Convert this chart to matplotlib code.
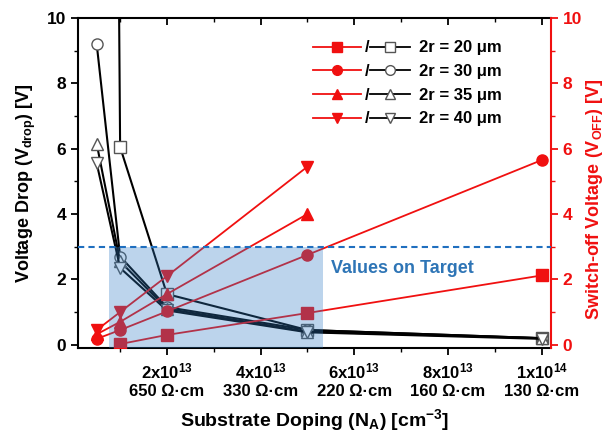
import numpy as np
import matplotlib
matplotlib.use("Agg")
import matplotlib.pyplot as plt
from matplotlib.lines import Line2D

plt.rcParams['font.family'] = ['Liberation Sans', 'DejaVu Sans']
plt.rcParams['font.weight'] = 'bold'
plt.rcParams['mathtext.default'] = 'regular'

# doping in 1e13 cm^-3
doping = np.array([0.5, 1.0, 2.0, 5.0, 10.0])

# voltage drop (black, open markers), left axis
vdrop_20 = [100.0, 6.05, 1.55, 0.45, 0.20]
vdrop_30 = [9.20, 2.70, 1.15, 0.45, 0.20]
vdrop_35 = [6.15, 2.55, 1.10, 0.40, 0.20]
vdrop_40 = [5.55, 2.35, 1.05, 0.38, 0.18]

# switch-off voltage (red, filled markers), right axis
voff_20 = [np.nan, 0.02, 0.30, 0.97, 2.12]
voff_30 = [0.18, 0.45, 1.02, 2.75, 5.65]
voff_35 = [0.32, 0.70, 1.55, 4.00, np.nan]
voff_40 = [0.45, 1.00, 2.10, 5.45, np.nan]

sizes = ['20', '30', '35', '40']
markers = ['s', 'o', '^', 'v']

xticks = [2, 4, 6, 8, 10]
xtick_labels = ['2x10$^{13}$\n650 \u03a9\u00b7cm', '4x10$^{13}$\n330 \u03a9\u00b7cm',
                '6x10$^{13}$\n220 \u03a9\u00b7cm', '8x10$^{13}$\n160 \u03a9\u00b7cm',
                '1x10$^{14}$\n130 \u03a9\u00b7cm']

target = 3.0
shade_x = [0.76, 5.33]

RED = '#f01010'
BLUE = '#1f6fbf'

fig = plt.figure(figsize=(6.13, 4.38), dpi=100)
ax = fig.add_axes([0.1272, 0.2055, 0.7716, 0.7534])
ax2 = ax.twinx()

for vals, m in zip([vdrop_20, vdrop_30, vdrop_35, vdrop_40], markers):
    ax.plot(doping, vals, color='black', lw=1.5, marker=m, ms=8,
            mfc='white', mec='#555555', mew=1.0, zorder=3)

for vals, m in zip([voff_20, voff_30, voff_35, voff_40], markers):
    ax2.plot(doping, vals, color=RED, lw=1.3, marker=m, ms=8,
             mfc=RED, mec=RED, zorder=2)

# target region
ax2.fill_between(shade_x, -0.1, target, color='#2f7cc4', alpha=0.32,
                 lw=0, zorder=5)
ax2.axhline(target, color=BLUE, lw=1.5, ls=(0, (3, 2)), zorder=6)
ax2.text(5.5, 2.33, 'Values on Target', color='#2e75b6', fontsize=13,
         fontweight='bold', va='center', ha='left', zorder=7)

ax.set_xlim(0.1, 10.2)
ax.set_ylim(-0.1, 10)
ax2.set_ylim(-0.1, 10)

ax.set_xticks(xticks)
ax.set_xticklabels(xtick_labels, fontsize=12, fontweight='bold', linespacing=1.15)
ax.set_xticks(np.arange(1, 11, 1), minor=True)
ax.set_yticks([0, 2, 4, 6, 8, 10])
ax.set_yticks(np.arange(1, 10, 2), minor=True)
ax2.set_yticks([0, 2, 4, 6, 8, 10])
ax2.set_yticks(np.arange(1, 10, 2), minor=True)

ax.tick_params(axis='x', which='both', direction='out', labelsize=12)
ax.tick_params(axis='x', which='major', length=5, width=1.3, pad=5)
ax.tick_params(axis='x', which='minor', length=3, width=1.0)
ax.tick_params(axis='y', which='major', direction='out', length=5, width=1.3,
               labelsize=12.5)
ax.tick_params(axis='y', which='minor', direction='out', length=3, width=1.0)
ax.tick_params(axis='y', which='both', right=False)
ax2.tick_params(axis='y', which='major', direction='out', length=5, width=1.3,
                colors=RED, labelsize=12.5)
ax2.tick_params(axis='y', which='minor', direction='out', length=3, width=1.0,
                colors=RED)
for lbl in ax.get_yticklabels() + ax2.get_yticklabels():
    lbl.set_fontweight('bold')

# top ticks point inwards
secx = ax.secondary_xaxis('top')
secx.set_xticks(xticks)
secx.set_xticks(np.arange(1, 11, 1), minor=True)
secx.tick_params(axis='x', which='major', direction='in', length=5, width=1.3,
                 labeltop=False)
secx.tick_params(axis='x', which='minor', direction='in', length=3, width=1.0)
secx.spines['top'].set_visible(False)

for s in ['left', 'bottom', 'top']:
    ax.spines[s].set_linewidth(1.5)
ax.spines['right'].set_visible(False)
for s in ['left', 'bottom', 'top']:
    ax2.spines[s].set_visible(False)
ax2.spines['right'].set_color(RED)
ax2.spines['right'].set_linewidth(1.5)

ax.set_ylabel('Voltage Drop (V$_{drop}$) [V]', fontsize=13, fontweight='bold',
              labelpad=6)
ax2.set_ylabel('Switch-off Voltage (V$_{OFF}$) [V]', fontsize=13,
               fontweight='bold', color=RED)
ax2.yaxis.set_label_coords(1.07, 0.45)
ax.set_xlabel('Substrate Doping (N$_A$) [cm$^{-3}$]', fontsize=14,
              fontweight='bold', labelpad=6)

# legend: red filled / black open
red_h = [Line2D([], [], color=RED, lw=1.3, marker=m, ms=7, mfc=RED, mec=RED)
         for m in markers]
blk_h = [Line2D([], [], color='black', lw=1.3, marker=m, ms=7, mfc='white',
                mec='#555555', mew=1.0) for m in markers]
leg1 = ax2.legend(red_h, ['/'] * 4, loc='upper left', bbox_to_anchor=(0.497, 0.932),
                  frameon=False, handlelength=2.9, handletextpad=0.2,
                  borderaxespad=0, borderpad=0, labelspacing=0.52,
                  prop={'weight': 'bold', 'size': 12})
ax2.add_artist(leg1)
ax2.legend(blk_h, ['2r = %s \u03bcm' % s for s in sizes], loc='upper left',
           bbox_to_anchor=(0.617, 0.932), frameon=False, handlelength=2.4,
           handletextpad=0.55, borderaxespad=0, borderpad=0, labelspacing=0.52,
           prop={'weight': 'bold', 'size': 12})

fig.savefig('out.png', dpi=100)
